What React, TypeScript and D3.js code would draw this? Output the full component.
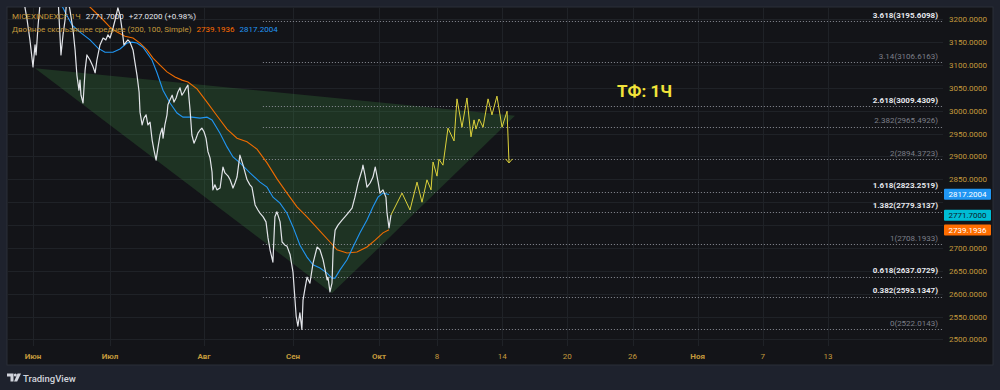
import React from 'react';
import * as d3 from 'd3';

// x values are days counted from 1 June, y values are index points
const closeSeries: [number, number][] = [
  [-4.3, 3264], [-2.3, 3199], [-1.2, 3155], [0, 3096], [0.8, 3144], [1.2, 3122], [2.0, 3188], [2.7, 3231], [3.5, 3264],
  [9.7, 3253], [10.9, 3122], [11.7, 3166], [12.5, 3199], [13.3, 3253],
  [14.4, 3220], [15.6, 3177], [16.4, 3133], [17.1, 3078], [17.9, 3045], [18.3, 3067], [18.7, 3034], [19.5, 3017],
  [20.3, 3089], [21.0, 3122], [22.2, 3111], [23.4, 3096], [24.2, 3083], [24.9, 3111], [26.1, 3144], [27.3, 3159],
  [28.4, 3155], [29.2, 3166], [30, 3159], [31.0, 3181], [31.7, 3199], [32.3, 3216], [32.6, 3225], [33.3, 3209],
  [34.0, 3177], [34.6, 3144], [35.3, 3150], [35.9, 3155], [36.6, 3150], [37.6, 3133], [38.2, 3107], [38.9, 3078],
  [39.6, 3041], [39.9, 2997], [40.6, 2969], [41.2, 2984], [41.9, 2991], [42.5, 2969], [43.2, 2975], [43.9, 2936],
  [44.5, 2914], [45.2, 2892], [45.8, 2919], [46.5, 2947], [47.2, 2962], [47.5, 2940], [48.1, 2969], [48.8, 2991],
  [49.1, 3013], [49.8, 3024], [50.5, 3034], [51.1, 3019], [51.8, 3028], [52.4, 3041], [53.1, 3050], [53.7, 3034],
  [54.4, 3041], [55.1, 3050], [55.7, 3056], [56.1, 3024], [56.4, 3002], [57.0, 2947], [57.7, 2929], [58.4, 2940],
  [59.0, 2951], [59.7, 2958], [60.3, 2962], [61, 2954], [61.7, 2940], [62.4, 2910], [63.1, 2897], [63.8, 2866],
  [64.1, 2827], [64.8, 2838], [65.5, 2827], [66.6, 2831], [67.6, 2877], [68.3, 2864], [69.4, 2857], [70.1, 2849],
  [71.1, 2831], [71.8, 2842], [72.5, 2855], [73.5, 2903], [74.6, 2881], [76.0, 2849], [77.0, 2838], [77.7, 2833],
  [78.8, 2794], [79.8, 2783], [80.5, 2776], [81.6, 2768], [82.6, 2757], [83.3, 2722], [84.0, 2696], [85.0, 2669],
  [85.7, 2768], [86.4, 2779], [87.5, 2757], [88.2, 2713], [89.2, 2706], [89.9, 2704], [91.0, 2685], [92, 2647],
  [92.7, 2586], [93.1, 2551], [93.7, 2529], [94.4, 2558], [95.1, 2522], [95.5, 2586], [96.2, 2612], [96.9, 2636],
  [97.9, 2623], [99.0, 2667], [100.4, 2702], [101.4, 2696], [102.5, 2674], [103.2, 2652], [103.9, 2630], [104.2, 2636],
  [104.9, 2604], [105.6, 2623], [106.0, 2696], [106.7, 2739], [107.7, 2750], [109.1, 2761], [110.1, 2768], [111.2, 2776],
  [112.6, 2787], [113.6, 2811], [114.7, 2842], [116.1, 2871], [116.4, 2881], [117.1, 2860], [117.8, 2833], [118.9, 2842],
  [119.9, 2855], [120.7, 2877], [121.7, 2844], [122.12, 2820], [122.48, 2827], [122.84, 2811], [122.97, 2776],
  [123.21, 2744], [123.45, 2772],
];

const sma100: [number, number][] = [
  [9.74, 3247], [10.52, 3238], [12.86, 3212], [15.19, 3188], [18.31, 3172], [22.21, 3155], [25.32, 3137], [28.05, 3128],
  [30.99, 3128], [33.3, 3135], [35.61, 3148], [37.26, 3150], [38.9, 3148], [40.88, 3139], [43.85, 3111], [45.5, 3083],
  [47.48, 3045], [49.79, 3017], [52.1, 2995], [54.07, 2986], [57.04, 2986], [59.68, 2984], [62.04, 2986], [63.79, 2980],
  [66.57, 2951], [69.01, 2921], [71.1, 2899], [73.54, 2886], [77.02, 2864], [80.51, 2844], [82.95, 2833], [85.03, 2811],
  [87.47, 2798], [89.91, 2776], [92, 2746], [94.44, 2706], [96.88, 2680], [98.98, 2663], [101.42, 2656], [103.86, 2645],
  [105.6, 2634], [106.65, 2634], [108.4, 2652], [110.84, 2674], [112.93, 2702], [115.37, 2733], [117.81, 2761],
  [119.91, 2790], [121.65, 2811], [122.48, 2820], [123.21, 2817],
];

const sma200: [number, number][] = [
  [20.26, 3247], [21.43, 3231], [24.16, 3216], [27.27, 3199], [30, 3183], [32.31, 3172], [34.95, 3163], [37.59, 3159],
  [39.89, 3148], [42.2, 3133], [44.18, 3115], [46.49, 3100], [48.8, 3085], [51.44, 3074], [53.74, 3067], [55.72, 3063],
  [58.69, 3048], [62.04, 3019], [65.53, 2989], [69.01, 2960], [72.49, 2940], [75.98, 2932], [79.46, 2916], [82.95, 2886],
  [86.43, 2851], [89.91, 2820], [93.4, 2790], [96.88, 2768], [101.42, 2737], [104.91, 2713], [107.35, 2696],
  [110.84, 2689], [114.32, 2691], [117.81, 2702], [120.65, 2717], [122.48, 2733], [123.21, 2740],
];

const projection: [number, number][] = [
  [123.45, 2772], [124.78, 2820], [125.74, 2783], [126.59, 2844], [127.19, 2800], [127.79, 2849], [128.28, 2827],
  [128.52, 2888], [129.0, 2857], [129.18, 2894], [129.55, 2881], [130.01, 2962], [130.57, 2934], [130.84, 3026],
  [131.3, 2964], [131.76, 3028], [132.13, 2943], [132.41, 2980], [132.59, 2960], [132.87, 2982], [133.24, 2964],
  [133.7, 3026], [134.06, 2991], [134.52, 3032], [134.99, 2964], [135.45, 2999], [135.63, 2886],
];

const triangle: [number, number][] = [[0.78, 3093], [105.6, 2601], [136.18, 2989]];

const fibRatios = ['3.618', '3.14', '2.618', '2.382', '2', '1.618', '1.382', '1', '0.618', '0.382', '0'];
const fibPrices = [3195.6098, 3106.6163, 3009.4309, 2965.4926, 2894.3723, 2823.2519, 2779.3137, 2708.1933, 2637.0729, 2593.1347, 2522.0143];
const fibStrong = [true, false, true, false, false, true, true, false, true, true, false];
const fibStartDay = 81.5;

const timeTickDays = [0, 30, 61, 92, 122, 129, 135, 141, 147, 153, 159, 165];
const timeTickLabels = ['Июн', 'Июл', 'Авг', 'Сен', 'Окт', '8', '14', '20', '26', 'Ноя', '7', '13'];
const timeTickMonth = [true, true, true, true, true, false, false, false, false, true, false, false];

const priceTicks = [2500, 2550, 2600, 2650, 2700, 2750, 2800, 2850, 2900, 2950, 3000, 3050, 3100, 3150, 3200];

const lastClose = 2771.7;
const lastSma200 = 2739.1936;
const lastSma100 = 2817.2004;

const FONT = 'Roboto, "Noto Sans", sans-serif';
const GOLD = '#c49a3c';

export default function App() {
  const pane = { left: 7, right: 943, top: 7, bottom: 346 };
  const x = d3.scaleLinear()
    .domain([0, 30, 61, 92, 122, 129, 165])
    .range([33, 110, 204, 293, 379, 437, 828]);
  const y = d3.scaleLinear().domain([2500, 3200]).range([339.4, 19.3]);

  const line = d3.line<[number, number]>().x(d => x(d[0])).y(d => y(d[1]));

  const end = projection[projection.length - 1];
  const ex = x(end[0]), ey = y(end[1]);

  const badges = [
    { v: lastSma100, bg: '#2196f3', fg: '#ffffff' },
    { v: lastClose, bg: '#00bcd4', fg: '#0d1b2a' },
    { v: lastSma200, bg: '#ff6d00', fg: '#ffffff' },
  ];
  // axis labels covered by a price badge are not drawn, as on the price scale
  const axisLabels = priceTicks.filter(p => badges.every(b => Math.abs(y(p) - y(b.v)) > 8));

  return (
    <div style={{ position: 'fixed', left: 0, top: 0 }}>
      <svg width={1000} height={390} style={{ display: 'block', fontFamily: FONT }}>
        <defs>
          <clipPath id="pane">
            <rect x={pane.left} y={pane.top} width={pane.right - pane.left} height={pane.bottom - pane.top} />
          </clipPath>
        </defs>
        <rect width={1000} height={390} fill="#1e222d" />
        <rect x={7} y={7} width={986} height={358} fill="#131418" stroke="#2a2e39" strokeWidth={1} />

        {/* grid */}
        <g stroke="#1f2227" strokeWidth={1}>
          {priceTicks.map(p => (
            <line key={p} x1={pane.left} x2={pane.right} y1={Math.round(y(p)) + 0.5} y2={Math.round(y(p)) + 0.5} />
          ))}
          {timeTickDays.map(d => (
            <line key={d} x1={Math.round(x(d)) + 0.5} x2={Math.round(x(d)) + 0.5} y1={pane.top} y2={pane.bottom} />
          ))}
        </g>

        <g clipPath="url(#pane)">
          <path d={line(triangle) + 'Z'} fill="#4caf50" fillOpacity={0.2} />

          {fibPrices.map((p, i) => (
            <g key={p}>
              <line x1={x(fibStartDay)} x2={pane.right} y1={Math.round(y(p)) + 0.5} y2={Math.round(y(p)) + 0.5}
                stroke="#8d9099" strokeWidth={1} strokeDasharray="1.2,1.8" opacity={0.85} />
              <text x={pane.right - 5} y={y(p) - 3.5} textAnchor="end" fontSize={8}
                fontWeight={fibStrong[i] ? 700 : 400} fill={fibStrong[i] ? '#e6e8ee' : '#7c7f88'}>
                {fibRatios[i]}({p.toFixed(4)})
              </text>
            </g>
          ))}

          <path d={line(sma200) || ''} fill="none" stroke="#ef6c00" strokeWidth={1.1} />
          <path d={line(sma100) || ''} fill="none" stroke="#2196f3" strokeWidth={1.1} />
          <path d={line(closeSeries) || ''} fill="none" stroke="#e3e5ea" strokeWidth={1.2} strokeLinejoin="round" />
          <path d={line(projection) || ''} fill="none" stroke="#ddd23b" strokeWidth={1} />
          <path d={`M${ex - 3.5},${ey - 4}L${ex},${ey}L${ex + 3.5},${ey - 4}`} fill="none" stroke="#ddd23b" strokeWidth={1} />

          <text x={617} y={97} fontSize={17} fontWeight={700} fill="#f2e33a">ТФ: 1Ч</text>
        </g>

        {/* legend */}
        <text x={12} y={19} fontSize={8}>
          <tspan fill={GOLD}>MICEXINDEXCF, 1Ч</tspan>
          <tspan dx={5} fill="#e6e8ee">{lastClose.toFixed(4)}</tspan>
          <tspan dx={5} fill="#e6e8ee">+27.0200 (+0.98%)</tspan>
        </text>
        <text x={12} y={32} fontSize={8}>
          <tspan fill={GOLD}>Двойное скользящее среднее (200, 100, Simple)</tspan>
          <tspan dx={5} fill="#ff6d00">{lastSma200.toFixed(4)}</tspan>
          <tspan dx={5} fill="#2196f3">{lastSma100.toFixed(4)}</tspan>
        </text>

        {/* price axis */}
        {axisLabels.map(p => (
          <text key={p} x={949} y={y(p) + 3} fontSize={8} fill={GOLD}>{p.toFixed(4)}</text>
        ))}
        {badges.map(b => (
          <g key={b.v}>
            <rect x={944} y={y(b.v) - 5.5} width={47} height={11} fill={b.bg} rx={1} />
            <text x={948.5} y={y(b.v) + 3} fontSize={8} fill={b.fg}>{b.v.toFixed(4)}</text>
          </g>
        ))}

        {/* time axis */}
        {timeTickDays.map((d, i) => (
          <text key={d} x={x(d)} y={359} fontSize={8} textAnchor="middle" fill={GOLD}
            fontWeight={timeTickMonth[i] ? 700 : 400}>{timeTickLabels[i]}</text>
        ))}

        {/* logo */}
        <g fill="#d1d4dc">
          <path d="M7,373.5 h6.5 v8 h-3 v-5 h-3.5 z" />
          <circle cx={15.3} cy={375} r={1.5} />
          <path d="M17.5,373.5 h3.5 l-3.8,8 h-3.2 z" />
        </g>
        <text x={23} y={381.5} fontSize={9.5} fill="#d1d4dc" fontWeight={500}>TradingView</text>
      </svg>
    </div>
  );
}
